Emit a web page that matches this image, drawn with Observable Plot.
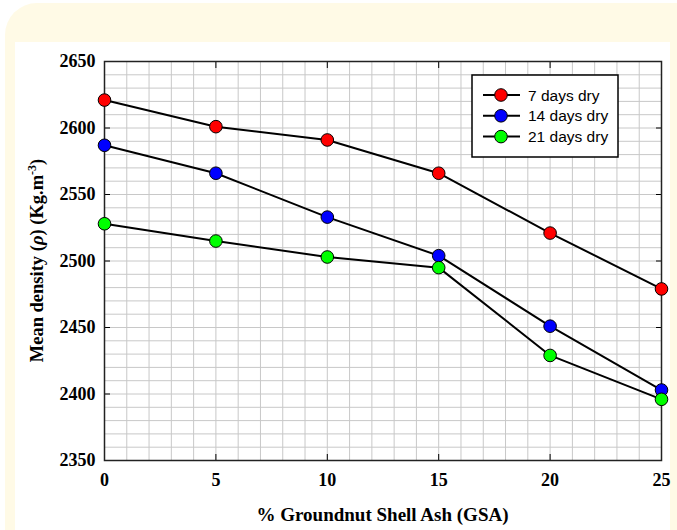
<!DOCTYPE html>
<html><head><meta charset="utf-8">
<script src="https://cdn.jsdelivr.net/npm/d3@7"></script>
<script src="https://cdn.jsdelivr.net/npm/@observablehq/plot@0.6"></script>
<style>
html,body{margin:0;padding:0;background:#fff;width:677px;height:530px;overflow:hidden}
#cream{position:absolute;left:5px;top:3px;width:720px;height:600px;background:#fffae6;border-radius:32px}
#panel{position:absolute;left:15px;top:42px;width:655px;height:520px;background:#fff}
#chart{position:absolute;left:0;top:0}
</style></head><body>
<div id="cream"></div><div id="panel"></div><div id="chart"></div>
<script>
const gsa = [0, 5, 10, 15, 20, 25];
const dry7 = [2621, 2601, 2591, 2566, 2521, 2479];
const dry14 = [2587, 2566, 2533, 2504, 2451, 2403];
const dry21 = [2528, 2515, 2503, 2495, 2429, 2396];
const seriesNames = ["7 days dry", "14 days dry", "21 days dry"];
const seriesColors = ["#ff0000", "#0000ff", "#00ff00"];
const xTicks = [0, 5, 10, 15, 20, 25];
const yTicks = [2350, 2400, 2450, 2500, 2550, 2600, 2650];
const xTitle = "% Groundnut Shell Ash (GSA)";

const rows = [];
[dry7, dry14, dry21].forEach((vals, i) =>
  vals.forEach((v, j) => rows.push({x: gsa[j], y: v, s: seriesNames[i]})));

const serif = "'Liberation Serif','Times New Roman',serif";
const sans = "'Liberation Sans',Arial,sans-serif";

function titles(index, scales, values, dims) {
  const g = d3.create("svg:g").attr("fill", "black");
  const cx = dims.marginLeft + (dims.width - dims.marginLeft - dims.marginRight) / 2;
  const cy = dims.marginTop + (dims.height - dims.marginTop - dims.marginBottom) / 2;
  g.append("text")
    .attr("x", cx).attr("y", dims.height - 9)
    .attr("text-anchor", "middle")
    .attr("font-family", serif).attr("font-size", 19).attr("font-weight", "bold")
    .text(xTitle);
  const t = g.append("text")
    .attr("transform", `translate(43,${cy}) rotate(-90)`)
    .attr("text-anchor", "middle")
    .attr("font-family", serif).attr("font-size", 18.5).attr("font-weight", "bold");
  t.append("tspan").text("Mean density (");
  t.append("tspan").attr("font-style", "italic").text("ρ");
  t.append("tspan").text(") (Kg.m");
  t.append("tspan").attr("font-size", 12).attr("dy", -7).text("-3");
  t.append("tspan").attr("dy", 7).text(")");
  return g.node();
}

function legend(index, scales, values, dims) {
  const g = d3.create("svg:g");
  g.append("rect").attr("x", 472).attr("y", 75).attr("width", 146).attr("height", 82)
    .attr("fill", "white").attr("stroke", "black").attr("stroke-width", 1.5);
  seriesNames.forEach((name, i) => {
    const y = 95 + i * 20.8;
    g.append("line").attr("x1", 483).attr("x2", 520).attr("y1", y).attr("y2", y)
      .attr("stroke", "black").attr("stroke-width", 2);
    g.append("circle").attr("cx", 501).attr("cy", y).attr("r", 6.3)
      .attr("fill", scales.color(name)).attr("stroke", "black").attr("stroke-width", 1);
    g.append("text").attr("x", 528).attr("y", y).attr("dy", "0.36em")
      .attr("text-anchor", "start")
      .attr("font-family", sans).attr("font-size", 15.5).attr("fill", "black").text(name);
  });
  return g.node();
}

const chart = Plot.plot({
  width: 677, height: 530,
  marginLeft: 104, marginRight: 16, marginTop: 61, marginBottom: 70,
  style: {background: "transparent", color: "black"},
  x: {domain: [0, 25]},
  y: {domain: [2350, 2650]},
  color: {domain: seriesNames, range: seriesColors},
  marks: [
    Plot.gridX(d3.range(0, 26, 1), {stroke: "#c8c8c8", strokeOpacity: 1, strokeWidth: 1}),
    Plot.gridY(d3.range(2350, 2651, 10), {stroke: "#c8c8c8", strokeOpacity: 1, strokeWidth: 1}),
    Plot.axisX(xTicks, {anchor: "bottom", tickSize: -6, tickPadding: 19, label: null,
      tickFormat: d => String(d),
      fontFamily: serif, fontSize: 18, fontWeight: "bold", fill: "black", stroke: "black"}),
    Plot.axisX(xTicks, {anchor: "top", tickSize: -6, tickFormat: () => "", label: null, stroke: "black"}),
    Plot.axisY(yTicks, {anchor: "left", tickSize: -6, tickPadding: 15, label: null,
      tickFormat: d => String(d),
      fontFamily: serif, fontSize: 18, fontWeight: "bold", fill: "black", stroke: "black"}),
    Plot.axisY(yTicks, {anchor: "right", tickSize: -6, tickFormat: () => "", label: null, stroke: "black"}),
    Plot.frame({stroke: "#222", strokeWidth: 1.5}),
    Plot.line(rows, {x: "x", y: "y", z: "s", stroke: "black", strokeWidth: 2}),
    Plot.dot(rows, {x: "x", y: "y", fill: "s", stroke: "black", strokeWidth: 1, r: 6.3}),
    legend,
    titles
  ]
});
document.getElementById("chart").appendChild(chart);
</script>
</body></html>
